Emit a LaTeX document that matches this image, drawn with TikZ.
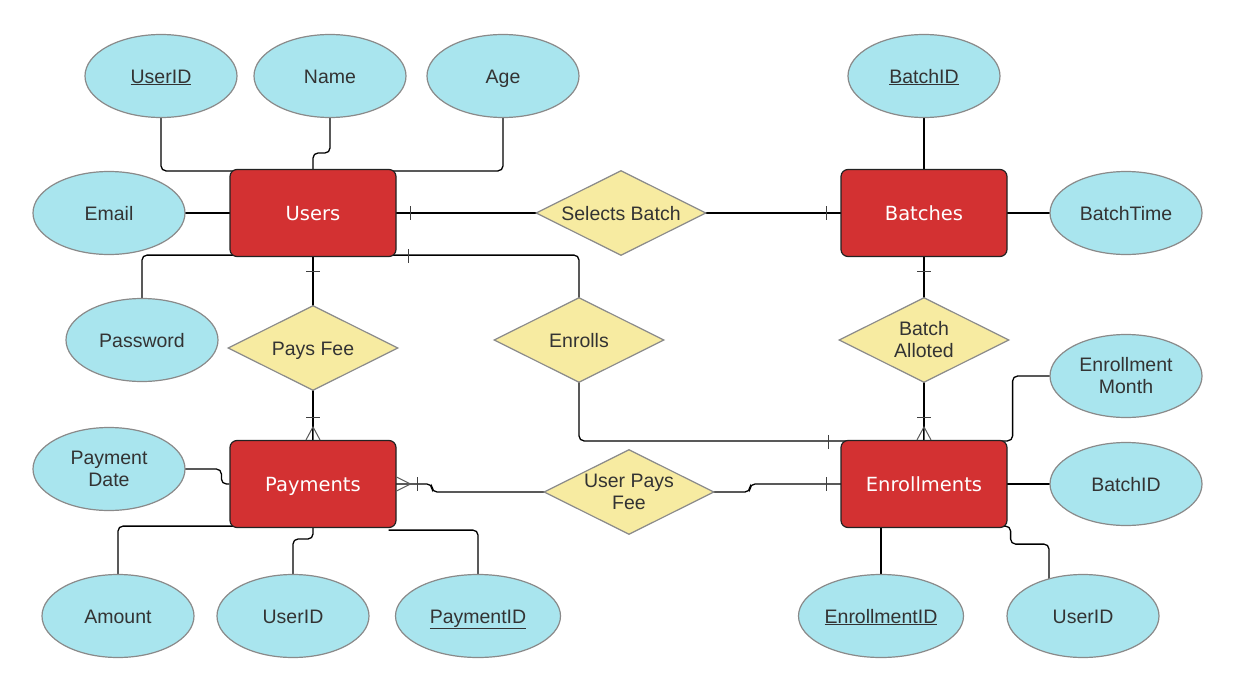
\documentclass[tikz,border=0pt]{standalone}
\usepackage{fontspec}
\setmainfont{Liberation Sans}
\newfontfamily\entfont{DejaVu Sans}
\usetikzlibrary{shapes.geometric,calc}
\definecolor{entc}{HTML}{D33132}
\definecolor{entb}{HTML}{222222}
\definecolor{attrc}{HTML}{A9E5EE}
\definecolor{attrb}{HTML}{8A8A8A}
\definecolor{relc}{HTML}{F7EBA1}
\definecolor{txt}{HTML}{333333}
\pgfdeclarelayer{bg}
\pgfsetlayers{bg,main}
\begin{document}
\begin{tikzpicture}[x=1pt,y=-1pt,
  attr/.style={ellipse, draw=attrb, line width=1.2pt, fill=attrc, minimum width=152pt, minimum height=83pt, inner sep=0pt, font=\fontsize{19.5}{22}\selectfont, text=txt, align=center},
  wattr/.style={attr, minimum width=165pt},
  one/.style={text height=14pt, text depth=0pt},
  ent/.style={rectangle, rounded corners=7pt, draw=entb, line width=1.2pt, fill=entc, minimum width=166pt, minimum height=87pt, text=white, font=\entfont\fontsize{19.5}{22}\selectfont, text height=14.2pt, text depth=0pt},
  rel/.style={diamond, aspect=2, draw=attrb, line width=1.2pt, fill=relc, minimum width=170pt, minimum height=85pt, inner sep=0pt, font=\fontsize{19.5}{22}\selectfont, text=txt, align=center},
  conn/.style={draw=black, line width=1.3pt, rounded corners=5pt},
  tick/.style={draw=black!75, line width=1pt},
  crow/.style={draw=black!65, line width=1pt}]
\useasboundingbox (0,0) rectangle (1245,685);
% entities
\node[ent] (Users) at (313,213) {Users};
\node[ent] (Batches) at (924,213) {Batches};
\node[ent] (Payments) at (313,484) {Payments};
\node[ent] (Enrollments) at (924,484) {Enrollments};
% attributes
\node[attr,one] (UserID) at (161,76) {\underline{UserID}};
\node[attr,one] (Name) at (330,76) {Name};
\node[attr,one] (Age) at (503,76) {Age};
\node[attr,one] (Email) at (109,213) {Email};
\node[attr,one] (Password) at (142,340) {Password};
\node[attr,one] (BatchIDa) at (924,76) {\underline{BatchID}};
\node[attr,one] (BatchTime) at (1126,213) {BatchTime};
\node[attr] (EnrMonth) at (1126,376) {Enrollment\\Month};
\node[attr,one] (BatchIDb) at (1126,484) {BatchID};
\node[attr] (PayDate) at (109,469) {Payment\\Date};
\node[attr,one] (Amount) at (118,616) {Amount};
\node[attr,one] (UserIDb) at (293,616) {UserID};
\node[wattr,one] (PaymentID) at (478,616) {\underline{PaymentID}};
\node[wattr,one] (EnrollmentID) at (881,616) {\underline{EnrollmentID}};
\node[attr,one] (UserIDc) at (1083,616) {UserID};
% relationships
\node[rel,one] (Selects) at (621,213) {Selects Batch};
\node[rel,one] (PaysFee) at (313,348) {Pays Fee};
\node[rel,one] (Enrolls) at (579,340) {Enrolls};
\node[rel] (Alloted) at (924,340) {Batch\\Alloted};
\node[rel] (UPF) at (629,492) {User Pays\\Fee};
\begin{pgfonlayer}{bg}
\fill[white] (0,0) rectangle (1245,685);
% attribute connectors
\draw[conn] (UserID.center) |- ([yshift=-2pt]Users.north);
\draw[conn] (Name.center) -- ++(0,77) -| (Users.center);
\draw[conn] (Age.center) |- ([yshift=-2pt]Users.north);
\draw[conn] (Email.center) -- (Users.center);
\draw[conn] (Password.center) |- ([yshift=2pt]Users.south);
\draw[conn] (BatchIDa.center) -- (Batches.center);
\draw[conn] (Batches.center) -- (BatchTime.center);
\draw[conn] (EnrMonth.center) -| ($(Enrollments.north east)+(5,1)$) -- ($(Enrollments.north east)+(-10,1)$);
\draw[conn] (Enrollments.center) -- (BatchIDb.center);
\draw[conn] (EnrollmentID.center) -- (EnrollmentID.center |- Enrollments.center);
\draw[conn] ($(Enrollments.south east)+(-10,-2)$) -- ++(13,0) -- ++(0,18) -| ($(UserIDc.center)+(-34,0)$);
\draw[conn] (Payments.west) -- ++(-8,0) |- (PayDate.center);
\draw[conn] (Amount.center) |- ([yshift=2pt]Payments.south);
\draw[conn] (Payments.center) -- ++(0,55) -| (UserIDb.center);
\draw[conn] ([xshift=-8pt,yshift=-2pt]Payments.south east) -| (PaymentID.center);
% relationship connectors
\draw[conn] (Users.center) -- (Selects.center);
\draw[conn] (Selects.center) -- (Batches.center);
\draw[conn] ([yshift=2pt]Users.south) -| (Enrolls.center);
\draw[conn] (Enrolls.center) |- ([yshift=-1pt]Enrollments.north);
\draw[conn] (Users.center) -- (PaysFee.center);
\draw[conn] (PaysFee.center) -- (Payments.center);
\draw[conn] (Batches.center) -- (Alloted.center);
\draw[conn] (Alloted.center) -- (Enrollments.center);
\draw[conn] (Payments.center) -- ++(119,0) |- (UPF.center);
\draw[conn] (Enrollments.center) -- ++(-174,0) |- (UPF.center);
\end{pgfonlayer}
% cardinality marks
\draw[tick] ($(Users.east)+(14,-7)$) -- ++(0,14);
\draw[tick] ($(Batches.west)+(-14,-7)$) -- ++(0,14);
\draw[tick] ($(Users.south east)+(12,-8)$) -- ++(0,14);
\draw[tick] ($(Enrollments.north west)+(-12,-5)$) -- ++(0,14);
\draw[tick] ($(Enrollments.west)+(-14,-7)$) -- ++(0,14);
\draw[tick] ($(Users.south)+(-7,14)$) -- ++(14,0);
\draw[tick] ($(Batches.south)+(-7,14)$) -- ++(14,0);
\draw[tick] ($(Payments.north)+(-7,-22)$) -- ++(14,0);
\draw[tick] ($(Enrollments.north)+(-7,-22)$) -- ++(14,0);
\draw[tick] ($(Payments.east)+(21,-7)$) -- ++(0,14);
\draw[crow] ($(Payments.north)+(-7,0)$) -- ($(Payments.north)+(0,-13)$) -- ($(Payments.north)+(7,0)$);
\draw[crow] ($(Payments.north)+(0,-13)$) -- (Payments.north);
\draw[crow] ($(Enrollments.north)+(-7,0)$) -- ($(Enrollments.north)+(0,-13)$) -- ($(Enrollments.north)+(7,0)$);
\draw[crow] ($(Enrollments.north)+(0,-13)$) -- (Enrollments.north);
\draw[crow] ($(Payments.east)+(0,-7)$) -- ($(Payments.east)+(14,0)$) -- ($(Payments.east)+(0,7)$);
\end{tikzpicture}
\end{document}
